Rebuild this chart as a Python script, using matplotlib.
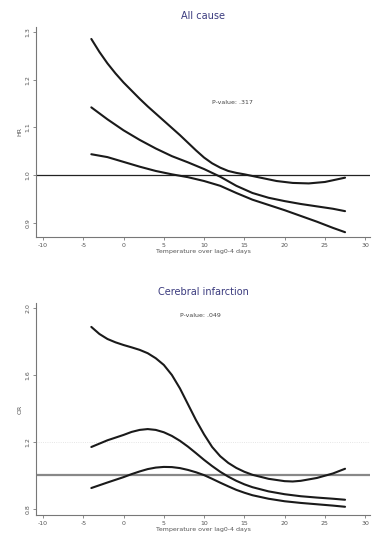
import matplotlib
matplotlib.use("Agg")
import matplotlib.pyplot as plt

# ---- data ----
x_ticks = [-10, -5, 0, 5, 10, 15, 20, 25, 30]

top_ux = [-4, -3, -2, -1, 0, 1, 2, 3, 4, 5, 6, 7, 8, 9, 10, 11, 12, 13, 14, 15, 17, 19, 21, 23, 25, 27.5]
top_upper = [1.285, 1.258, 1.234, 1.213, 1.194, 1.177, 1.160, 1.144, 1.129, 1.114, 1.099, 1.084, 1.068,
             1.052, 1.037, 1.025, 1.016, 1.009, 1.005, 1.002, 0.995, 0.988, 0.984, 0.983, 0.986, 0.995]
top_x = [-4, -2, 0, 2, 4, 6, 8, 10, 12, 14, 16, 18, 20, 22, 24, 26, 27.5]
top_mid = [1.142, 1.117, 1.094, 1.074, 1.056, 1.040, 1.027, 1.013, 0.997, 0.978, 0.963, 0.953, 0.946,
           0.940, 0.935, 0.930, 0.925]
top_low = [1.044, 1.038, 1.028, 1.018, 1.009, 1.002, 0.996, 0.988, 0.978, 0.963, 0.949, 0.938, 0.927,
           0.915, 0.903, 0.890, 0.881]
top_yticks = [0.9, 1.0, 1.1, 1.2, 1.3]

bot_ux = [-4, -3, -2, -1, 0, 1, 2, 3, 4, 5, 6, 7, 8, 9, 10, 11, 12, 13, 14, 15, 16, 18, 20, 21, 22, 24, 26, 27.5]
bot_upper = [1.887, 1.845, 1.815, 1.795, 1.779, 1.765, 1.750, 1.730, 1.700, 1.660, 1.600, 1.520, 1.425, 1.330,
             1.245, 1.170, 1.115, 1.075, 1.045, 1.022, 1.004, 0.980, 0.966, 0.964, 0.968, 0.985, 1.012, 1.040]
bot_x = [-4, -2, 0, 1, 2, 3, 4, 5, 6, 7, 8, 9, 10, 11, 12, 13, 14, 15, 16, 18, 20, 22, 24, 26, 27.5]
bot_mid = [1.170, 1.210, 1.242, 1.260, 1.272, 1.277, 1.272, 1.258, 1.236, 1.207, 1.172, 1.133, 1.093, 1.056,
           1.022, 0.993, 0.968, 0.947, 0.930, 0.905, 0.888, 0.876, 0.868, 0.861, 0.855]
bot_low = [0.925, 0.958, 0.990, 1.008, 1.024, 1.038, 1.047, 1.051, 1.050, 1.044, 1.033, 1.019, 1.002, 0.980,
           0.957, 0.935, 0.914, 0.897, 0.882, 0.861, 0.846, 0.836, 0.828, 0.820, 0.813]
bot_yticks = [0.8, 1.2, 1.6, 2.0]

titles = ["All cause", "Cerebral infarction"]
pvals = ["P-value: .317", "P-value: .049"]
ylabels = ["HR", "OR"]
xlabel = "Temperature over lag0-4 days"

fig = plt.figure(figsize=(3.73, 5.37), dpi=100)
ax1 = fig.add_axes([0.0965, 0.5587, 0.8955, 0.391])
ax2 = fig.add_axes([0.0965, 0.041, 0.8955, 0.3948])

title_color = "#3b3b7e"
axis_color = "#777777"

def style(ax, yticks, ylim, ylabel):
    ax.set_xlim(-10.87, 30.6)
    ax.set_ylim(*ylim)
    ax.set_xticks(x_ticks)
    ax.set_xticklabels([str(t) for t in x_ticks], fontsize=4.5, color="#555555")
    ax.set_yticks(yticks)
    ax.set_yticklabels([f"{t:.1f}" for t in yticks], fontsize=4.5, color="#555555", rotation=90, va="center")
    for s in ["top", "right"]:
        ax.spines[s].set_visible(False)
    for s in ["left", "bottom"]:
        ax.spines[s].set_color(axis_color)
        ax.spines[s].set_linewidth(0.8)
    ax.tick_params(length=2.5, width=0.6, color=axis_color, pad=1.5)
    ax.set_xlabel(xlabel, fontsize=4.5, color="#555555", labelpad=1)
    ax.set_ylabel(ylabel, fontsize=4.5, color="#555555", labelpad=2)
    ax.set_facecolor("white")

# top panel
style(ax1, top_yticks, (0.871, 1.31), ylabels[0])
ax1.axhline(1.0, color="#222222", lw=0.9)
ax1.plot(top_ux, top_upper, color="#1a1a1a", lw=1.5, solid_capstyle="round", solid_joinstyle="round")
for ys in (top_mid, top_low):
    ax1.plot(top_x, ys, color="#1a1a1a", lw=1.5, solid_capstyle="round", solid_joinstyle="round")
ax1.text(13.5, 1.153, pvals[0], fontsize=4.5, color="#444444", ha="center", va="center")
ax1.set_title(titles[0], fontsize=7, color=title_color, pad=6)

# bottom panel
style(ax2, bot_yticks, (0.764, 2.03), ylabels[1])
ax2.axhline(1.2, color="#dddddd", lw=0.6, ls=":")
ax2.axhline(1.0, color="#888888", lw=1.6)
ax2.plot(bot_ux, bot_upper, color="#1a1a1a", lw=1.5, solid_capstyle="round", solid_joinstyle="round")
for ys in (bot_mid, bot_low):
    ax2.plot(bot_x, ys, color="#1a1a1a", lw=1.5, solid_capstyle="round", solid_joinstyle="round")
ax2.text(9.5, 1.955, pvals[1], fontsize=4.5, color="#444444", ha="center", va="center")
ax2.set_title(titles[1], fontsize=7, color=title_color, pad=6)

fig.savefig("out.png", dpi=100, facecolor="white")
